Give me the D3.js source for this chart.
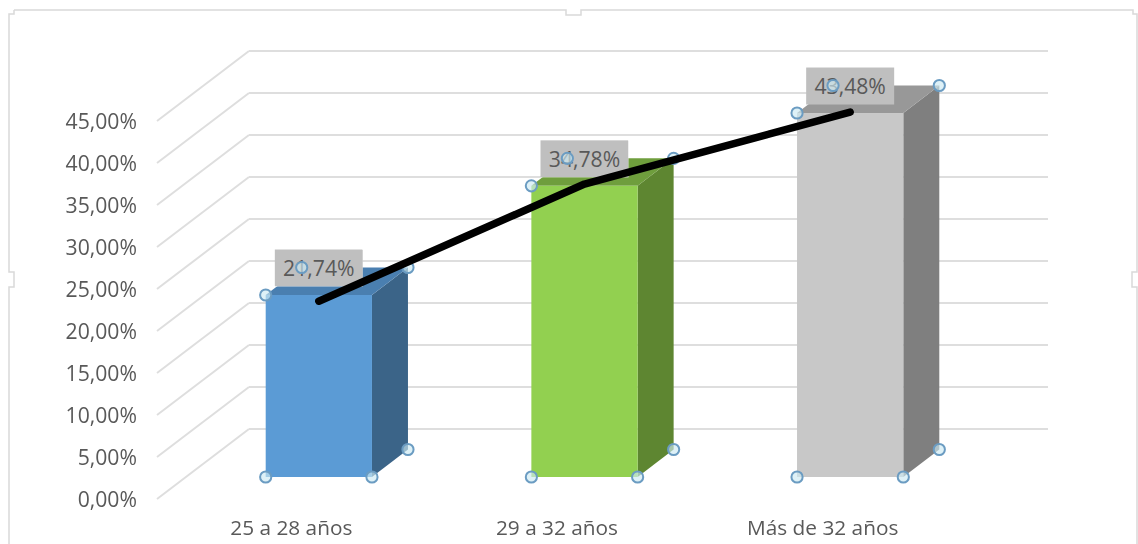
<!DOCTYPE html>
<html>
<head>
<meta charset="utf-8">
<script src="https://cdn.jsdelivr.net/npm/d3@7"></script>
<style>
  html, body { margin: 0; padding: 0; background: #fff; overflow: hidden; }
  svg { filter: blur(0.45px); }
  text { font-family: "Open Sans", sans-serif; fill: #595959; }
</style>
</head>
<body>
<div id="chart"></div>
<script>
const categories = ["25 a 28 años", "29 a 32 años", "Más de 32 años"];
const barValues = [21.74, 34.78, 43.48];
// black trend line drawn over the bars, sits a little off the bar tops
const lineValues = [21.0, 35.0, 43.6];
const tickValues = [0, 5, 10, 15, 20, 25, 30, 35, 40, 45];
const frontColors = ["#5b9bd5", "#92d050", "#c8c8c8"];
const topColors = ["#4a7fb0", "#6f9e3d", "#989898"];
const sideColors = ["#3b6488", "#5e8631", "#7f7f7f"];

const width = 1138, height = 544;

// wall depth and bar depth of the fake 3d
const wallDx = 92, wallDy = -70;
const barDx = 36, barDy = -27.5;

let svg = d3.select("#chart")
    .append("svg")
    .attr("width", width)
    .attr("height", height);

let locale = d3.formatLocale({decimal: ",", thousands: ".", grouping: [3], currency: ["", ""]});
let pct = locale.format(".2f");

// y of the back wall, front of the floor and bar fronts
let yWall = d3.scaleLinear().domain([0, 45]).range([429, 51]);
let yAxis = d3.scaleLinear().domain([0, 45]).range([499, 121]);
let yBar = d3.scaleLinear().domain([0, 45]).range([477, 100.3]);

let x = d3.scaleBand()
    .domain(categories)
    .range([186, 983])
    .paddingInner(0.6)
    .paddingOuter(0.3);

// frame of the selected chart with its sizing handles
svg.append("path")
    .attr("d", "M14,10H566V15H581V10H1133V14H1137V272H1132V287H1137V544M9,544V287H14V272H9V14H14V10")
    .attr("fill", "none")
    .attr("stroke", "#d9d9d9")
    .attr("stroke-width", 1.5);

// gridlines: back wall plus the part running along the side wall
let grid = svg.append("g");
grid.selectAll("line.back")
    .data(tickValues)
    .enter()
    .append("line")
    .classed("back", true)
    .attr("x1", 157 + wallDx)
    .attr("x2", 1048)
    .attr("y1", d => yWall(d))
    .attr("y2", d => yWall(d));
grid.selectAll("line.side")
    .data(tickValues)
    .enter()
    .append("line")
    .classed("side", true)
    .attr("x1", 157)
    .attr("x2", 157 + wallDx)
    .attr("y1", d => yAxis(d))
    .attr("y2", d => yWall(d));
grid.selectAll("line")
    .attr("stroke", "#dedede")
    .attr("stroke-width", 2);

// y axis labels
let axis = svg.append("g")
    .attr("transform", "translate(137,0.5)")
    .call(d3.axisLeft(yAxis).tickValues(tickValues).tickSize(0).tickPadding(0).tickFormat(d => pct(d) + "%"));
axis.select(".domain").remove();
axis.selectAll("text")
    .style("font-size", "21.2px")
    .style("font-family", null);

// bars
let bars = svg.selectAll(".bar")
    .data(categories)
    .enter()
    .append("g")
    .classed("bar", true);

function poly(points) {
    return points.map(p => p.join(",")).join(" ");
}

bars.append("polygon")
    .attr("fill", (d, i) => sideColors[i])
    .attr("points", (d, i) => {
        let r = x(d) + x.bandwidth();
        return poly([[r, yBar(barValues[i])], [r + barDx, yBar(barValues[i]) + barDy], [r + barDx, yBar(0) + barDy], [r, yBar(0)]]);
    });
bars.append("polygon")
    .attr("fill", (d, i) => topColors[i])
    .attr("points", (d, i) => {
        let l = x(d), r = l + x.bandwidth(), t = yBar(barValues[i]);
        return poly([[l, t], [l + barDx, t + barDy], [r + barDx, t + barDy], [r, t]]);
    });
bars.append("rect")
    .attr("fill", (d, i) => frontColors[i])
    .attr("x", d => x(d))
    .attr("y", (d, i) => yBar(barValues[i]))
    .attr("width", x.bandwidth())
    .attr("height", (d, i) => yBar(0) - yBar(barValues[i]));

// category labels sit left of the bars because of the depth
svg.selectAll(".cat")
    .data(categories)
    .enter()
    .append("text")
    .classed("cat", true)
    .attr("x", d => x(d) + x.bandwidth() / 2 - 27.5)
    .attr("y", 527.5)
    .attr("dy", "0.35em")
    .attr("text-anchor", "middle")
    .style("font-size", "20.8px")
    .text(d => d);

// data labels on a grey box
let labels = svg.selectAll(".lab")
    .data(categories)
    .enter()
    .append("g")
    .classed("lab", true)
    .attr("transform", (d, i) => "translate(" + (x(d) + x.bandwidth() / 2) + "," + (yBar(barValues[i]) + barDy) + ")");
labels.append("rect")
    .attr("x", -44)
    .attr("y", -18)
    .attr("width", 88)
    .attr("height", 37)
    .attr("fill", "#bfbfbf");
labels.append("text")
    .attr("text-anchor", "middle")
    .attr("y", 1)
    .attr("dy", "0.35em")
    .style("font-size", "21.2px")
    .text((d, i) => pct(barValues[i]) + "%");

// selection handles on the bar corners
let handles = [];
categories.forEach((d, i) => {
    let l = x(d), r = l + x.bandwidth(), t = yBar(barValues[i]), b = yBar(0);
    handles.push([l, b], [r, b], [r + barDx, b + barDy], [l, t], [l + barDx, t + barDy], [r + barDx, t + barDy]);
});
svg.selectAll(".handle")
    .data(handles)
    .enter()
    .append("circle")
    .classed("handle", true)
    .attr("cx", d => d[0])
    .attr("cy", d => d[1])
    .attr("r", 5.6)
    .attr("fill", "#cdeaf2")
    .attr("fill-opacity", 0.65)
    .attr("stroke", "#6b9cc2")
    .attr("stroke-width", 2);

// black line on top of everything
let line = d3.line()
    .x((d, i) => x(categories[i]) + x.bandwidth() / 2)
    .y(d => yBar(d));
svg.append("path")
    .attr("d", line(lineValues))
    .attr("fill", "none")
    .attr("stroke", "#000")
    .attr("stroke-width", 7.5)
    .attr("stroke-linecap", "round")
    .attr("stroke-linejoin", "round");
</script>
</body>
</html>
